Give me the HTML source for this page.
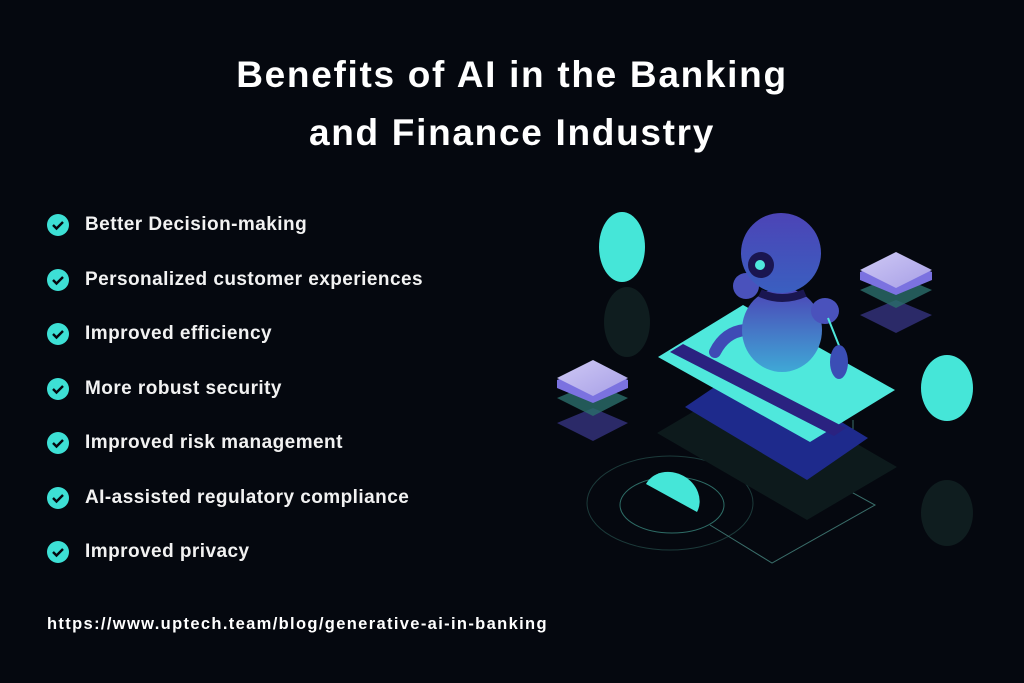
<!DOCTYPE html>
<html><head><style>
body{margin:0;width:1024px;height:683px;background:#05080f;overflow:hidden;font-family:"Liberation Sans",sans-serif;color:#fff;position:relative}
h1{position:absolute;top:46px;left:0;width:1024px;text-align:center;margin:0;font-size:37px;line-height:58px;font-weight:bold;letter-spacing:1.7px}
.it{position:absolute;left:47px;font-size:19px;font-weight:bold;height:24px;line-height:24px;color:#f2f2f2;letter-spacing:0.45px}
.it svg{position:absolute;left:0;top:1px}
.it span{position:absolute;left:38px;white-space:nowrap}
.url{position:absolute;left:47px;top:615px;font-size:16.5px;font-weight:bold;letter-spacing:1.35px}
</style></head><body>
<h1>Benefits of AI in the Banking<br>and Finance Industry</h1>
<div class="it" style="top:213px"><svg width="22" height="22"><circle cx="11" cy="11" r="11" fill="#3de0d5"/><path d="M6 11l3.5 3.5L16 8" stroke="#05080f" stroke-width="2.4" fill="none"/></svg><span>Better Decision-making</span></div>
<div class="it" style="top:268px"><svg width="22" height="22"><circle cx="11" cy="11" r="11" fill="#3de0d5"/><path d="M6 11l3.5 3.5L16 8" stroke="#05080f" stroke-width="2.4" fill="none"/></svg><span>Personalized customer experiences</span></div>
<div class="it" style="top:322px"><svg width="22" height="22"><circle cx="11" cy="11" r="11" fill="#3de0d5"/><path d="M6 11l3.5 3.5L16 8" stroke="#05080f" stroke-width="2.4" fill="none"/></svg><span>Improved efficiency</span></div>
<div class="it" style="top:377px"><svg width="22" height="22"><circle cx="11" cy="11" r="11" fill="#3de0d5"/><path d="M6 11l3.5 3.5L16 8" stroke="#05080f" stroke-width="2.4" fill="none"/></svg><span>More robust security</span></div>
<div class="it" style="top:431px"><svg width="22" height="22"><circle cx="11" cy="11" r="11" fill="#3de0d5"/><path d="M6 11l3.5 3.5L16 8" stroke="#05080f" stroke-width="2.4" fill="none"/></svg><span>Improved risk management</span></div>
<div class="it" style="top:486px"><svg width="22" height="22"><circle cx="11" cy="11" r="11" fill="#3de0d5"/><path d="M6 11l3.5 3.5L16 8" stroke="#05080f" stroke-width="2.4" fill="none"/></svg><span>AI-assisted regulatory compliance</span></div>
<div class="it" style="top:540px"><svg width="22" height="22"><circle cx="11" cy="11" r="11" fill="#3de0d5"/><path d="M6 11l3.5 3.5L16 8" stroke="#05080f" stroke-width="2.4" fill="none"/></svg><span>Improved privacy</span></div>
<div class="url">https://www.uptech.team/blog/generative-ai-in-banking</div>
<svg style="position:absolute;left:0;top:0" width="1024" height="683">
<defs>
<linearGradient id="rb" x1="0" y1="0" x2="0" y2="1"><stop offset="0" stop-color="#4c44b6"/><stop offset="1" stop-color="#3a5fc0"/></linearGradient>
<linearGradient id="bd" x1="0" y1="0" x2="0" y2="1"><stop offset="0" stop-color="#4c44b6"/><stop offset="1" stop-color="#3fa8d6"/></linearGradient>
<linearGradient id="bx" x1="0" y1="0" x2="1" y2="1"><stop offset="0" stop-color="#cfc9f5"/><stop offset="1" stop-color="#a79fe6"/></linearGradient>
</defs>
<ellipse cx="670" cy="503" rx="83" ry="47" fill="none" stroke="#1c3a3a" stroke-width="1"/>
<ellipse cx="672" cy="505" rx="52" ry="28" fill="none" stroke="#2e6c66" stroke-width="1"/>
<polyline points="853,420 853,493 875,505 772,563 710,525" fill="none" stroke="#3a6e6a" stroke-width="1"/>
<ellipse cx="627" cy="322" rx="23" ry="35" fill="#0f1d1f"/>
<ellipse cx="947" cy="513" rx="26" ry="33" fill="#0f1d1f"/>
<polygon points="657,433 747,380 897,467 807,520" fill="#0d1a1c"/>
<polygon points="685,407 747,365 868,438 807,480" fill="#1e2a8c"/>
<polygon points="658,357 743,305 895,390 810,442" fill="#4fe8dc"/>
<polygon points="670,352 683,344 846,428 834,436" fill="#2a2280"/>
<path d="M745 330 q-20 2 -30 22" stroke="#3f4bb5" stroke-width="12" fill="none" stroke-linecap="round"/>
<ellipse cx="782" cy="330" rx="40" ry="42" fill="url(#bd)"/>
<path d="M760 293 q22 10 45 0" stroke="#1a1650" stroke-width="8" fill="none"/>
<ellipse cx="825" cy="311" rx="14" ry="13" fill="#4a52bc"/>
<line x1="828" y1="318" x2="840" y2="348" stroke="#4fe8dc" stroke-width="2"/>
<ellipse cx="839" cy="362" rx="9" ry="17" fill="#3b4eb5"/>
<ellipse cx="746" cy="286" rx="13" ry="13" fill="#4a52bc"/>
<circle cx="781" cy="253" r="40" fill="url(#rb)"/>
<circle cx="761" cy="265" r="13" fill="#1a1650"/>
<circle cx="760" cy="265" r="5" fill="#4fe8dc"/>
<ellipse cx="622" cy="247" rx="23" ry="35" fill="#45e6d8"/>
<ellipse cx="947" cy="388" rx="26" ry="33" fill="#45e6d8"/>
<path d="M646 484 A22 19 30 0 1 697 512 z" fill="#45e6d8"/>
<polygon points="860,315 896,300 932,315 896,333" fill="#2b2a68"/>
<polygon points="860,290 896,275 932,290 896,308" fill="#2b6e6a" opacity="0.8"/>
<polygon points="860,272 896,257 932,272 932,280 896,295 860,280" fill="#7b72e0"/>
<polygon points="860,270 896,252 932,270 896,288" fill="url(#bx)"/>
<polygon points="557,423 593,408 628,423 593,441" fill="#2b2a68"/>
<polygon points="557,398 593,383 628,398 593,416" fill="#2b6e6a" opacity="0.8"/>
<polygon points="557,380 593,365 628,380 628,388 593,403 557,388" fill="#7b72e0"/>
<polygon points="557,378 593,360 628,378 593,396" fill="url(#bx)"/>
</svg>
</body></html>
